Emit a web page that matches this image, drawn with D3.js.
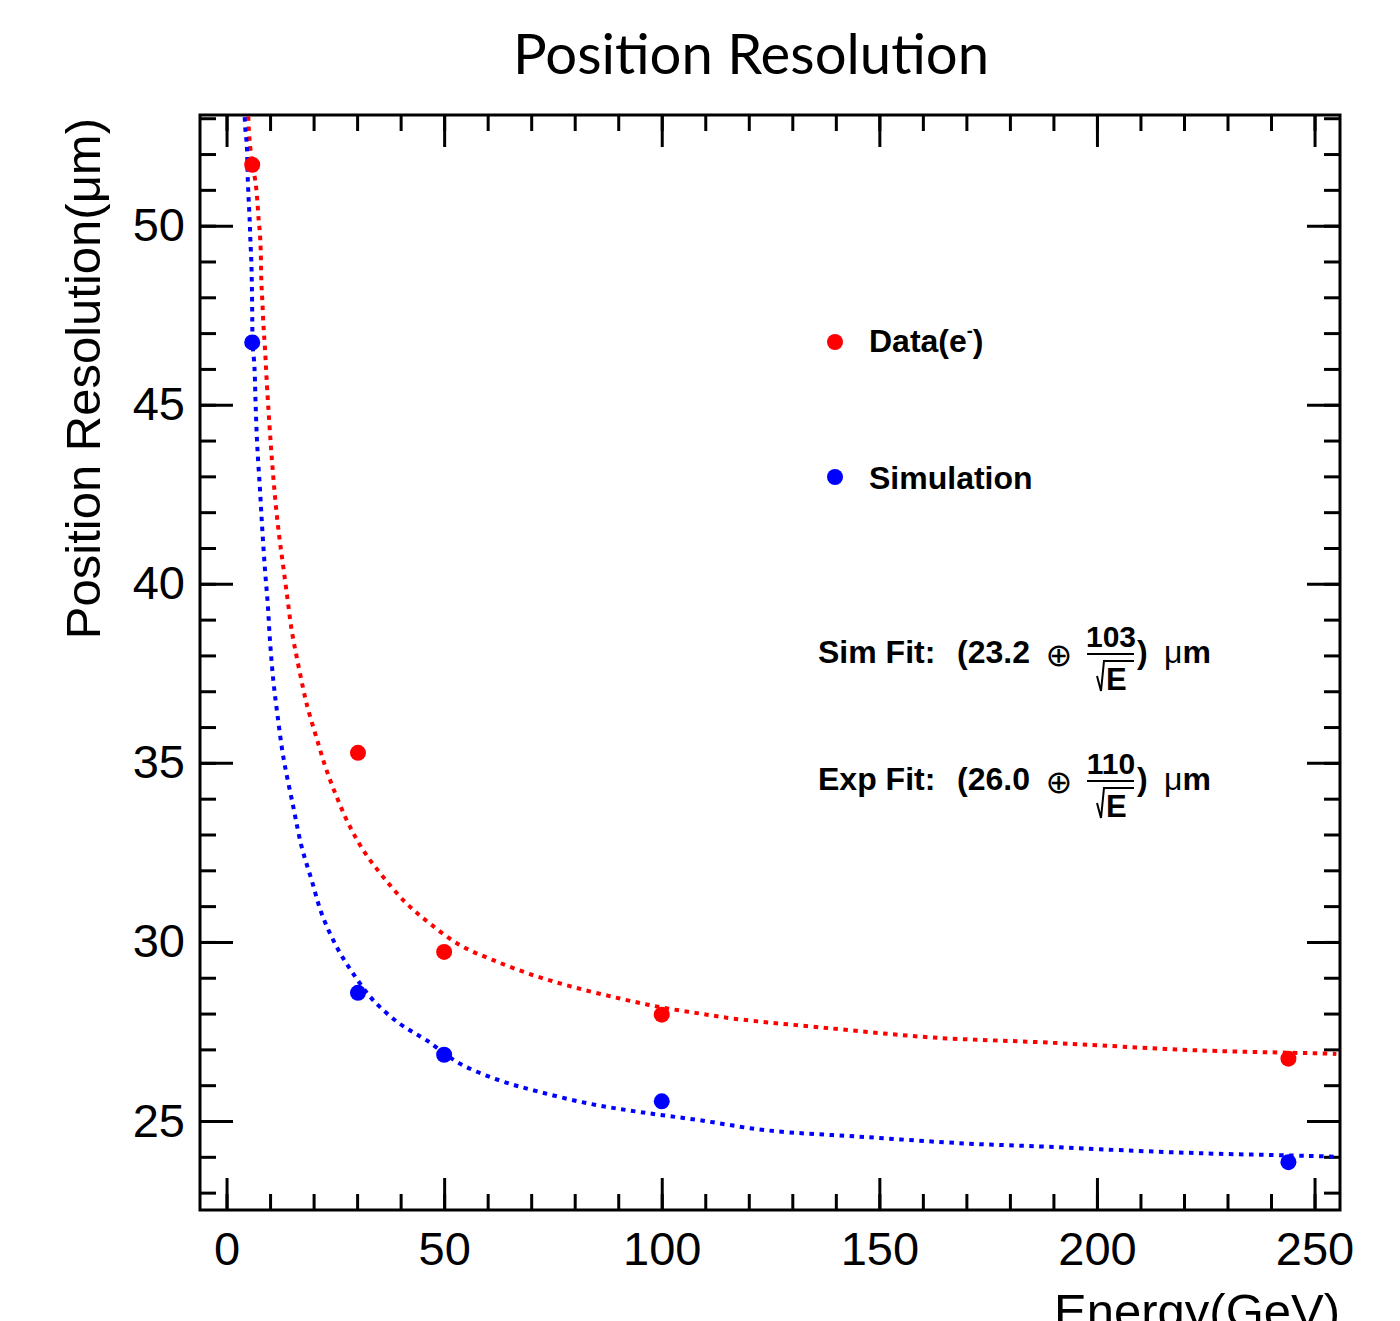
<!DOCTYPE html>
<html>
<head>
<meta charset="utf-8">
<script src="https://cdn.jsdelivr.net/npm/d3@7"></script>
<style>
  html, body { margin: 0; padding: 0; background: #fff; }
  svg { display: block; }
</style>
</head>
<body>
<svg id="chart" width="1400" height="1321"></svg>
<script>
// Measured beam energies (GeV) and position resolutions (µm)
const energies = [5.9, 30.2, 50, 100, 244];
const dataRes = [51.70, 35.28, 29.72, 27.97, 26.74];
const simRes = [46.74, 28.58, 26.85, 25.55, 23.85];

// Fitted resolution curves, sampled along energy
const dataFitE = [5.0, 5.09, 5.32, 5.92, 6.61, 7.07, 7.39, 7.62, 7.85, 7.99, 8.22, 8.45, 8.61, 8.91, 9.14,
  9.59, 10.21, 10.74, 11.36, 12.12, 13.04, 14.05, 14.97, 16.26, 18.03, 18.79, 20.72, 22.85, 25.31,
  27.98, 31.42, 36.02, 41.40, 46.75, 53.64, 61.29, 70.49, 79.68, 90.41, 99.60, 108.79, 116.4,
  139.4, 162.4, 186.9, 200.7, 223.7, 253.5, 255.0];
const dataFitRes = [53.05, 52.75, 52.35, 51.70, 51.25, 50.70, 50.14, 49.86, 49.30, 48.46, 47.90, 47.30, 46.97, 46.41, 45.86,
  44.94, 43.82, 42.99, 42.15, 41.31, 40.47, 39.54, 38.70, 37.87, 36.84, 36.47, 35.68, 34.84, 34.05,
  33.31, 32.56, 31.81, 31.07, 30.51, 29.91, 29.49, 29.07, 28.74, 28.42, 28.18, 28.00, 27.86,
  27.58, 27.33, 27.20, 27.11, 26.97, 26.88, 26.87];

const simFitE = [4.17, 4.31, 4.54, 4.70, 4.85, 5.09, 5.32, 5.48, 5.69, 5.80, 5.87, 5.92, 5.97, 6.10, 6.32, 6.48,
  6.70, 7.07, 7.69, 8.22, 8.84, 9.46, 9.98, 10.74, 11.66, 13.04, 15.34, 17.27, 19.57, 21.86,
  25.31, 29.12, 33.72, 39.86, 45.99, 53.64, 62.83, 72.02, 83.51, 95.0, 108.79, 124.1, 147.1,
  170.1, 186.9, 200.7, 223.7, 253.5, 255.0];
const simFitRes = [53.03, 52.70, 52.42, 52.14, 51.40, 50.70, 50.14, 49.58, 49.02, 48.46, 47.90, 47.25, 46.74, 46.50, 46.23, 45.86,
  44.94, 43.82, 42.62, 41.50, 40.38, 39.45, 38.42, 37.31, 36.38, 35.17, 33.77, 32.65, 31.72, 30.79,
  29.86, 29.11, 28.37, 27.71, 27.25, 26.60, 26.13, 25.81, 25.48, 25.25, 25.02, 24.74, 24.55,
  24.37, 24.29, 24.21, 24.10, 24.01, 24.00];

// Axis ticks
const xMajorTicks = [0, 50, 100, 150, 200, 250];
const xMinorTicks = d3.range(0, 256, 10);
const yMajorTicks = [25, 30, 35, 40, 45, 50];
const yMinorTicks = d3.range(23, 54, 1);

const dataColor = "#ff0000";
const simColor = "#0000ff";

const svg = d3.select("#chart");
const W = 1400, H = 1321;
const plot = { left: 200, right: 1340, top: 115, bottom: 1210 };

svg.append("rect").attr("width", W).attr("height", H).attr("fill", "#fff");

const x = d3.scaleLinear().domain([-6.1, 255.85]).range([plot.left, plot.right]);
const y = d3.scaleLinear().domain([22.515, 53.09]).range([plot.bottom, plot.top]);

// Title
svg.append("text")
  .attr("x", 513).attr("y", 74)
  .attr("font-family", "Lato, 'Open Sans', sans-serif")
  .attr("font-size", 56)
  .attr("textLength", 476)
  .attr("lengthAdjust", "spacingAndGlyphs")
  .attr("fill", "#000")
  .text("Position Resolution");

// Clip region for the curves
svg.append("defs").append("clipPath").attr("id", "plotClip")
  .append("rect")
  .attr("x", plot.left).attr("y", plot.top)
  .attr("width", plot.right - plot.left).attr("height", plot.bottom - plot.top);

// Axes: ticks on all four sides, pointing inward
const tickFont = "'Liberation Sans', Arial, Helvetica, sans-serif";
function styleAxis(g) {
  g.select(".domain").remove();
  g.selectAll(".tick line").attr("stroke", "#000").attr("stroke-width", 3);
  g.selectAll("text").attr("font-family", tickFont).attr("font-size", 47).attr("fill", "#000");
}

svg.append("g").attr("transform", `translate(0,${plot.bottom})`)
  .call(d3.axisBottom(x).tickValues(xMinorTicks).tickSize(-16).tickFormat(""))
  .call(styleAxis);
svg.append("g").attr("transform", `translate(0,${plot.bottom})`)
  .call(d3.axisBottom(x).tickValues(xMajorTicks).tickSize(-32).tickPadding(22).tickFormat(d3.format("d")))
  .call(styleAxis);
svg.append("g").attr("transform", `translate(0,${plot.top})`)
  .call(d3.axisTop(x).tickValues(xMinorTicks).tickSize(-16).tickFormat(""))
  .call(styleAxis);
svg.append("g").attr("transform", `translate(0,${plot.top})`)
  .call(d3.axisTop(x).tickValues(xMajorTicks).tickSize(-32).tickFormat(""))
  .call(styleAxis);

svg.append("g").attr("transform", `translate(${plot.left},0)`)
  .call(d3.axisLeft(y).tickValues(yMinorTicks).tickSize(-16).tickFormat(""))
  .call(styleAxis);
svg.append("g").attr("transform", `translate(${plot.left},0)`)
  .call(d3.axisLeft(y).tickValues(yMajorTicks).tickSize(-33).tickPadding(15).tickFormat(d3.format("d")))
  .call(styleAxis);
svg.append("g").attr("transform", `translate(${plot.right},0)`)
  .call(d3.axisRight(y).tickValues(yMinorTicks).tickSize(-16).tickFormat(""))
  .call(styleAxis);
svg.append("g").attr("transform", `translate(${plot.right},0)`)
  .call(d3.axisRight(y).tickValues(yMajorTicks).tickSize(-33).tickFormat(""))
  .call(styleAxis);

// Frame
svg.append("rect")
  .attr("x", plot.left).attr("y", plot.top)
  .attr("width", plot.right - plot.left).attr("height", plot.bottom - plot.top)
  .attr("fill", "none").attr("stroke", "#000").attr("stroke-width", 3);

// Axis titles
svg.append("text")
  .attr("transform", `translate(100,118) rotate(-90)`)
  .attr("text-anchor", "end")
  .attr("font-family", tickFont).attr("font-size", 49).attr("fill", "#000")
  .text("Position Resolution(μm)");

svg.append("text")
  .attr("x", 1340).attr("y", 1328)
  .attr("text-anchor", "end")
  .attr("font-family", tickFont).attr("font-size", 49).attr("fill", "#000")
  .text("Energy(GeV)");

// Fit curves (dotted)
const line = d3.line()
  .x(d => x(d[0])).y(d => y(d[1]))
  .curve(d3.curveCatmullRom.alpha(0.5));

const curves = svg.append("g").attr("clip-path", "url(#plotClip)");
curves.append("path")
  .datum(d3.zip(dataFitE, dataFitRes))
  .attr("d", line)
  .attr("fill", "none").attr("stroke", dataColor)
  .attr("stroke-width", 4).attr("stroke-dasharray", "4.5 5.5");
curves.append("path")
  .datum(d3.zip(simFitE, simFitRes))
  .attr("d", line)
  .attr("fill", "none").attr("stroke", simColor)
  .attr("stroke-width", 4).attr("stroke-dasharray", "4.5 5.5");

// Measured points
const markerR = 8;
svg.append("g").selectAll("circle")
  .data(d3.zip(energies, dataRes)).join("circle")
  .attr("cx", d => x(d[0])).attr("cy", d => y(d[1]))
  .attr("r", markerR).attr("fill", dataColor);
svg.append("g").selectAll("circle")
  .data(d3.zip(energies, simRes)).join("circle")
  .attr("cx", d => x(d[0])).attr("cy", d => y(d[1]))
  .attr("r", markerR).attr("fill", simColor);

// Legend
const boldFont = "'Liberation Sans', Arial, Helvetica, sans-serif";
const legend = svg.append("g");
legend.append("circle").attr("cx", 835).attr("cy", 342).attr("r", 8).attr("fill", dataColor);
legend.append("circle").attr("cx", 835).attr("cy", 477).attr("r", 8).attr("fill", simColor);
const dataLabel = legend.append("text")
  .attr("x", 869).attr("y", 352)
  .attr("font-family", boldFont).attr("font-weight", "bold").attr("font-size", 32).attr("fill", "#000");
dataLabel.append("tspan").text("Data(e");
dataLabel.append("tspan").attr("font-size", 18).attr("dy", -15).text("-");
dataLabel.append("tspan").attr("dy", 15).text(")");
legend.append("text")
  .attr("x", 869).attr("y", 489)
  .attr("font-family", boldFont).attr("font-weight", "bold").attr("font-size", 32).attr("fill", "#000")
  .text("Simulation");

// Fit formulas
function fitLabel(baseline, name, constant, stochastic) {
  const g = svg.append("g").attr("transform", `translate(0,${baseline})`);
  g.append("text")
    .attr("x", 818).attr("y", 0)
    .attr("font-family", boldFont).attr("font-weight", "bold").attr("font-size", 32).attr("fill", "#000")
    .text(name + " Fit:");
  g.append("text")
    .attr("x", 957).attr("y", 0)
    .attr("font-family", boldFont).attr("font-weight", "bold").attr("font-size", 32).attr("fill", "#000")
    .text("(" + constant);
  g.append("text")
    .attr("x", 1059).attr("y", 3)
    .attr("text-anchor", "middle")
    .attr("font-family", "'DejaVu Sans', sans-serif").attr("font-size", 32).attr("fill", "#000")
    .text("⊕");
  // numerator
  g.append("text")
    .attr("x", 1111).attr("y", -16)
    .attr("text-anchor", "middle")
    .attr("font-family", boldFont).attr("font-weight", "bold").attr("font-size", 30).attr("fill", "#000")
    .text(stochastic);
  // fraction bar
  g.append("line")
    .attr("x1", 1087).attr("x2", 1134).attr("y1", -9).attr("y2", -9)
    .attr("stroke", "#000").attr("stroke-width", 2);
  // square root sign over E
  g.append("path")
    .attr("d", "M1097,13 L1101,28 L1104,-2 L1134,-2")
    .attr("fill", "none").attr("stroke", "#000").attr("stroke-width", 2);
  g.append("text")
    .attr("x", 1106).attr("y", 27)
    .attr("font-family", boldFont).attr("font-weight", "bold").attr("font-size", 31).attr("fill", "#000")
    .text("E");
  const tail = g.append("text")
    .attr("x", 1137).attr("y", 0)
    .attr("font-family", boldFont).attr("font-weight", "bold").attr("font-size", 32).attr("fill", "#000");
  tail.append("tspan").text(")");
  tail.append("tspan").attr("x", 1164).attr("font-weight", "normal").text("μ");
  tail.append("tspan").text("m");
}
fitLabel(663, "Sim", "23.2", "103");
fitLabel(790, "Exp", "26.0", "110");
</script>
</body>
</html>
